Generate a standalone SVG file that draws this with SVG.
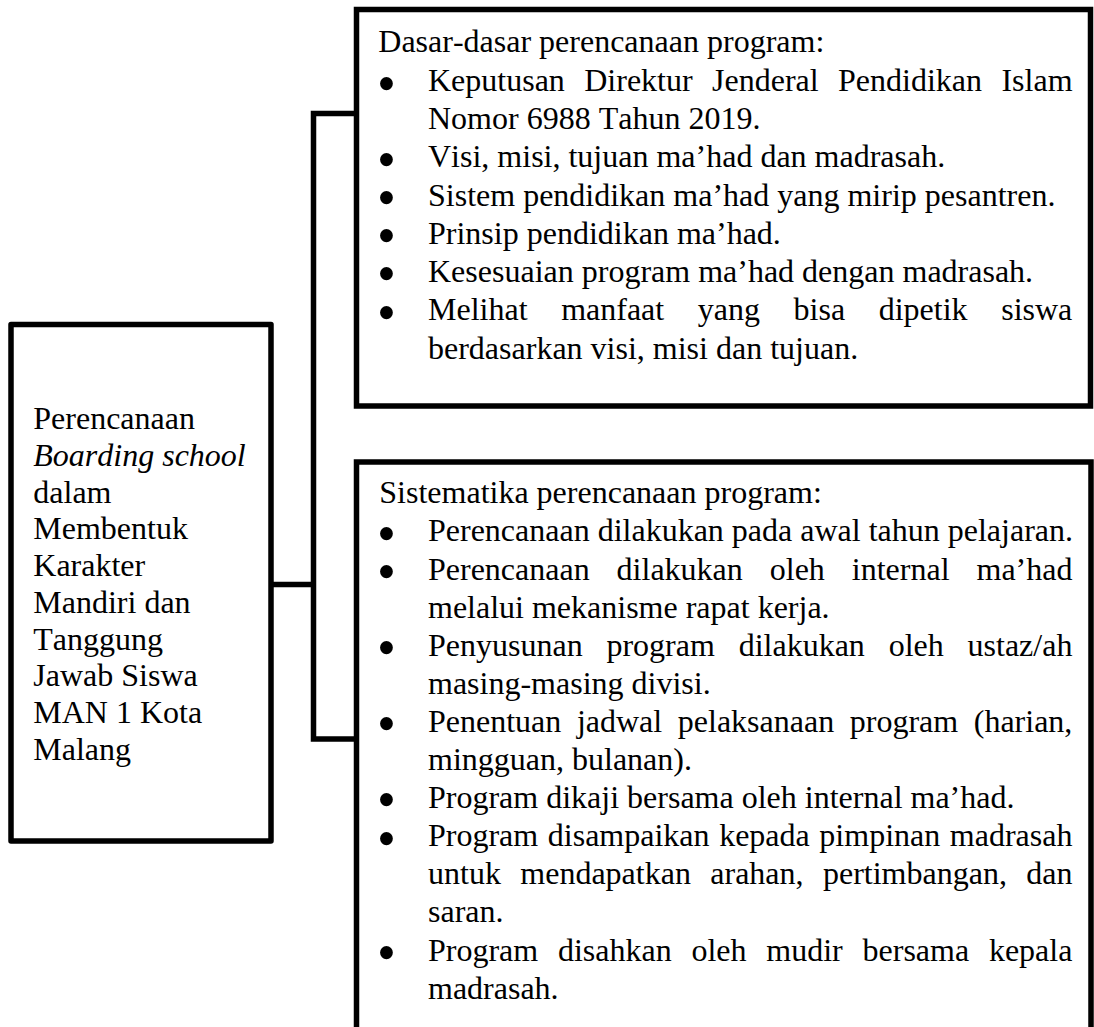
<svg xmlns="http://www.w3.org/2000/svg" width="1094" height="1027" viewBox="0 0 1094 1027">
<style>
.box{fill:#fff;stroke:#000;stroke-width:5.5}
.conn{fill:none;stroke:#000;stroke-width:5.5}
text{font-family:"Liberation Serif","Times New Roman",serif;font-size:32px;fill:#000;font-kerning:none}
.it{font-style:italic}
.bu{font-size:54px}
</style>
<rect width="1094" height="1027" fill="#fff"/>
<g id="connectors">
<path class="conn" d="M271,584.5 H313.5"/>
<path class="conn" d="M356.5,113.5 H313.5 V739 H356.5"/>
</g>
<g id="node-root">
<rect class="box" x="11" y="324.5" width="260" height="516.5" stroke-linejoin="round"/>
<text x="33.3" y="429.3">Perencanaan</text>
<text x="33.3" y="466" class="it">Boarding school</text>
<text x="33.3" y="502.7">dalam</text>
<text x="33.3" y="539.4">Membentuk</text>
<text x="33.3" y="576.1">Karakter</text>
<text x="33.3" y="612.8">Mandiri dan</text>
<text x="33.3" y="649.5">Tanggung</text>
<text x="33.3" y="686.2">Jawab Siswa</text>
<text x="33.3" y="722.9">MAN 1 Kota</text>
<text x="33.3" y="759.6">Malang</text>
</g>
<g id="node-dasar">
<rect class="box" x="356.5" y="9.5" width="734" height="396.5"/>
<text x="378.3" y="51.7">Dasar-dasar perencanaan program:</text>
<text class="bu" x="377" y="101.5">•</text>
<text x="428" y="91" word-spacing="11.4">Keputusan Direktur Jenderal Pendidikan Islam</text>
<text x="428" y="129">Nomor 6988 Tahun 2019.</text>
<text class="bu" x="377" y="177.5">•</text>
<text x="428" y="167.2">Visi, misi, tujuan ma’had dan madrasah.</text>
<text class="bu" x="377" y="215.8">•</text>
<text x="428" y="205.5">Sistem pendidikan ma’had yang mirip pesantren.</text>
<text class="bu" x="377" y="254.1">•</text>
<text x="428" y="243.8">Prinsip pendidikan ma’had.</text>
<text class="bu" x="377" y="292.4">•</text>
<text x="428" y="282.1">Kesesuaian program ma’had dengan madrasah.</text>
<text class="bu" x="377" y="330.7">•</text>
<text x="428" y="320.4" word-spacing="25.6">Melihat manfaat yang bisa dipetik siswa</text>
<text x="428" y="358.9">berdasarkan visi, misi dan tujuan.</text>
</g>
<g id="node-sistematika">
<path class="box" d="M356.5,1040 V462 H1091 V1040"/>
<text x="379.3" y="503.3">Sistematika perencanaan program:</text>
<text class="bu" x="377" y="551.7">•</text>
<text x="428" y="541.4">Perencanaan dilakukan pada awal tahun pelajaran.</text>
<text class="bu" x="377" y="589.8">•</text>
<text x="428" y="579.5" word-spacing="18.95">Perencanaan dilakukan oleh internal ma’had</text>
<text x="428" y="617.6">melalui mekanisme rapat kerja.</text>
<text class="bu" x="377" y="666">•</text>
<text x="428" y="655.7" word-spacing="15.8">Penyusunan program dilakukan oleh ustaz/ah</text>
<text x="428" y="693.8">masing-masing divisi.</text>
<text class="bu" x="377" y="742.2">•</text>
<text x="428" y="731.9" word-spacing="7.6">Penentuan jadwal pelaksanaan program (harian,</text>
<text x="428" y="770">mingguan, bulanan).</text>
<text class="bu" x="377" y="818.4">•</text>
<text x="428" y="808.1">Program dikaji bersama oleh internal ma’had.</text>
<text class="bu" x="377" y="856.5">•</text>
<text x="428" y="846.2" word-spacing="1.6">Program disampaikan kepada pimpinan madrasah</text>
<text x="428" y="884.3" word-spacing="11.4">untuk mendapatkan arahan, pertimbangan, dan</text>
<text x="428" y="922.4">saran.</text>
<text class="bu" x="377" y="970.8">•</text>
<text x="428" y="960.5" word-spacing="11.76">Program disahkan oleh mudir bersama kepala</text>
<text x="428" y="998.6">madrasah.</text>
</g>
</svg>
